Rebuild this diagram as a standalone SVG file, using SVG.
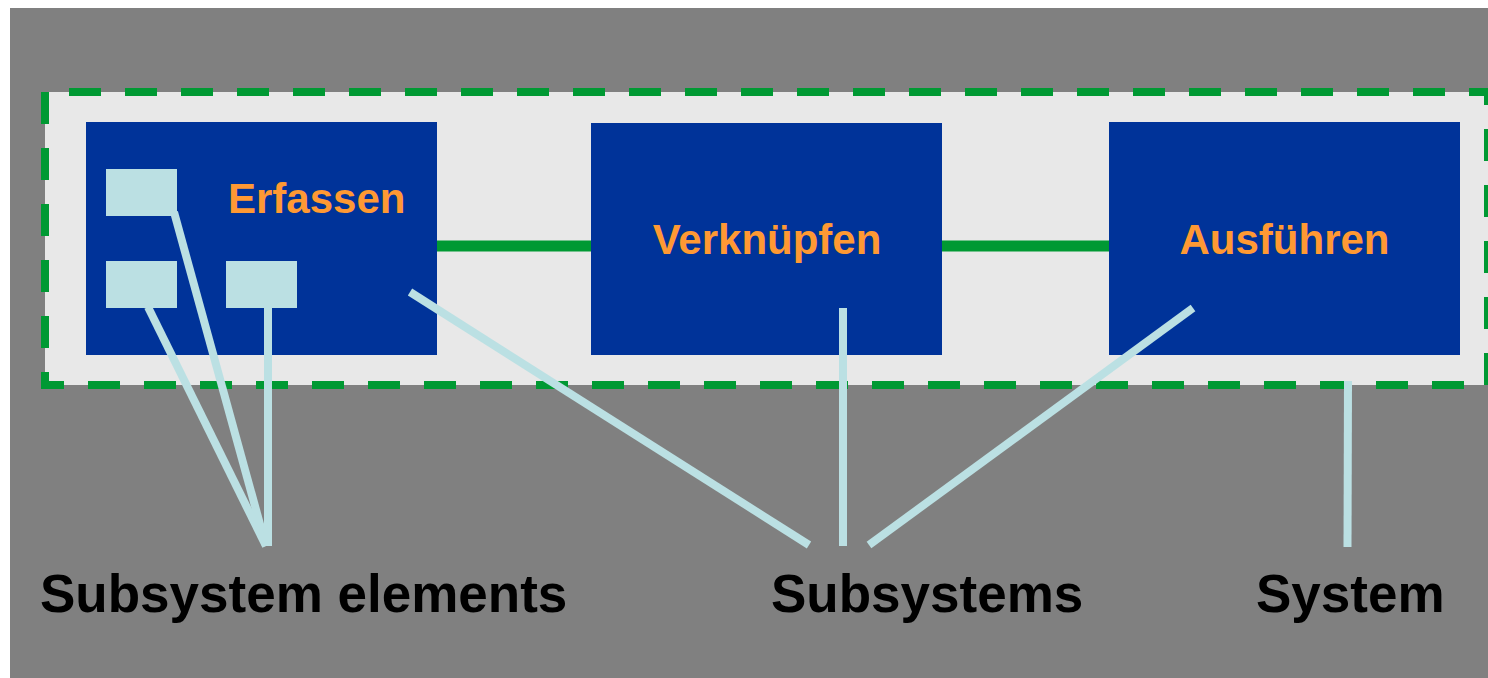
<svg xmlns="http://www.w3.org/2000/svg" width="1488" height="678" viewBox="0 0 1488 678">
<style>
.box{fill:#003399}
.elem{fill:#BBE0E3}
.name{font-family:"Liberation Sans",Arial,sans-serif;font-weight:bold;font-size:42px;fill:#FF9933}
.label{font-family:"Liberation Sans",Arial,sans-serif;font-weight:bold;font-size:53px;fill:#000000}
.ptr{stroke:#BBE0E3;stroke-width:8;fill:none;stroke-linecap:butt}
.link{stroke:#009933;stroke-width:11;fill:none}
</style>
<rect x="0" y="0" width="1488" height="678" fill="#FFFFFF"/>
<rect x="10" y="8" width="1478" height="670" fill="#808080"/>
<g id="system">
<rect x="45" y="92" width="1443" height="293" fill="#E8E8E8"/>
<path d="M45,92 V385 H1488 V92 Z" fill="none" stroke="#009933" stroke-width="8" stroke-dasharray="32 24"/>
</g>
<g id="links">
<line class="link" x1="437" y1="246" x2="591" y2="246"/>
<line class="link" x1="942" y1="246" x2="1109" y2="246"/>
</g>
<g id="erfassen">
<rect class="box" x="86" y="122" width="351" height="233"/>
<text class="name" x="228" y="213">Erfassen</text>
</g>
<g id="verknuepfen">
<rect class="box" x="591" y="123" width="351" height="232"/>
<text class="name" x="767" y="254" text-anchor="middle">Verknüpfen</text>
</g>
<g id="ausfuehren">
<rect class="box" x="1109" y="122" width="351" height="233"/>
<text class="name" x="1284.5" y="254" text-anchor="middle">Ausführen</text>
</g>
<g id="element1"><rect class="elem" x="106" y="169" width="71" height="47"/></g>
<g id="element2"><rect class="elem" x="106" y="261" width="71" height="47"/></g>
<g id="element3"><rect class="elem" x="226" y="261" width="71" height="47"/></g>
<g id="connectors">
<line class="ptr" x1="174" y1="212" x2="266" y2="546"/>
<line class="ptr" x1="148" y1="307" x2="266" y2="546"/>
<line class="ptr" x1="268" y1="307" x2="268" y2="546"/>
<line class="ptr" x1="410" y1="292" x2="809" y2="545"/>
<line class="ptr" x1="843" y1="308" x2="843" y2="546"/>
<line class="ptr" x1="1193" y1="308" x2="869" y2="545"/>
<line class="ptr" x1="1348" y1="381" x2="1347.5" y2="547"/>
</g>
<g id="label-elements"><text class="label" x="40" y="612">Subsystem elements</text></g>
<g id="label-subsystems"><text class="label" x="771" y="612">Subsystems</text></g>
<g id="label-system"><text class="label" x="1256" y="612">System</text></g>
</svg>
